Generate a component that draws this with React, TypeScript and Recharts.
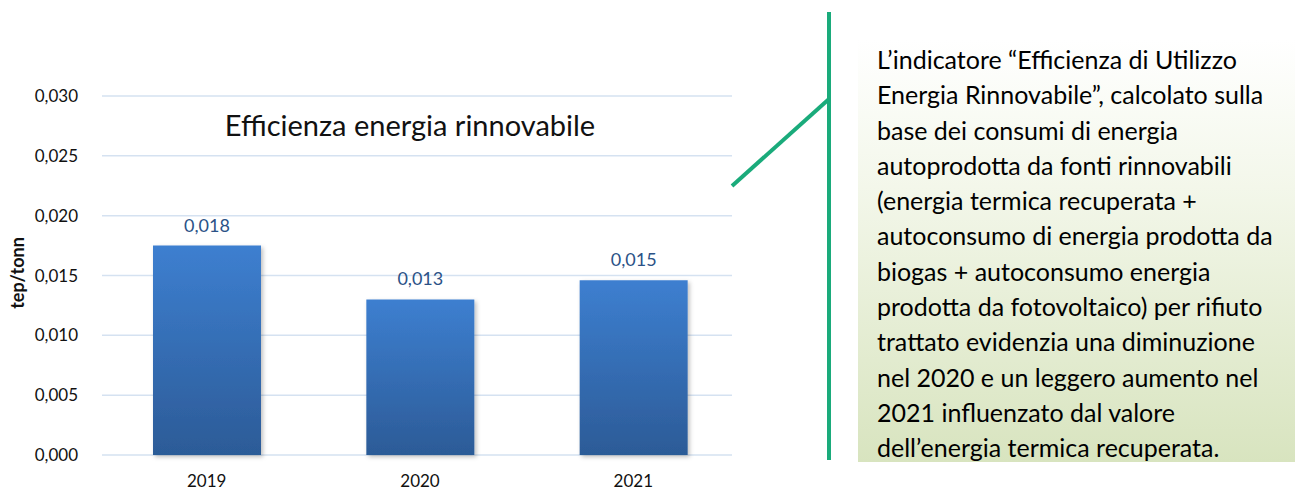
import React from "react";
import { BarChart, Bar, XAxis, YAxis, CartesianGrid, LabelList, Text } from "recharts";

const years = ["2019", "2020", "2021"];
const efficiency = [0.0175, 0.013, 0.0146];
const yTicks = [0, 0.005, 0.01, 0.015, 0.02, 0.025, 0.03];

const noteLines = [
  "L\u2019indicatore \u201cEfficienza di Utilizzo",
  "Energia Rinnovabile\u201d, calcolato sulla",
  "base dei consumi di energia",
  "autoprodotta da fonti rinnovabili",
  "(energia termica recuperata +",
  "autoconsumo di energia prodotta da",
  "biogas + autoconsumo energia",
  "prodotta da fotovoltaico) per rifiuto",
  "trattato evidenzia una diminuzione",
  "nel 2020 e un leggero aumento nel",
  "2021 influenzato dal valore",
  "dell\u2019energia termica recuperata.",
];

const data = years.map((year, i) => ({ year, value: efficiency[i] }));

const FONT = "Lato, 'Open Sans', sans-serif";
const fmt = (v: number) => v.toFixed(3).replace(".", ",");

const App = () => (
  <div
    style={{
      position: "absolute",
      left: 0,
      top: 0,
      width: 1295,
      height: 490,
      background: "#fff",
      fontFamily: FONT,
      overflow: "hidden",
    }}
  >
    <div style={{ position: "absolute", left: 0, top: 0 }}>
      <BarChart
        width={740}
        height={490}
        data={data}
        margin={{ top: 96, right: 8, bottom: 5, left: 0 }}
      >
        <defs>
          <linearGradient id="barFill" x1="0" y1="0" x2="0" y2="1">
            <stop offset="0%" stopColor="#3d7fd0" />
            <stop offset="100%" stopColor="#2c5b97" />
          </linearGradient>
          <filter id="barShadow" x="-10%" y="-5%" width="125%" height="115%">
            <feDropShadow dx="2" dy="2" stdDeviation="2" floodColor="#000" floodOpacity="0.25" />
          </filter>
        </defs>
        <CartesianGrid vertical={false} stroke="#d5e2f1" strokeWidth={1.5} />
        <XAxis
          dataKey="year"
          axisLine={false}
          tickLine={false}
          height={30}
          tickMargin={14}
          padding={{ left: -2, right: -8 }}
          tick={{ fill: "#111", fontSize: 17, fontFamily: FONT }}
        />
        <YAxis
          width={102}
          domain={[0, 0.03]}
          ticks={yTicks}
          tickFormatter={fmt}
          axisLine={false}
          tickLine={false}
          tickMargin={18}
          tick={{ fill: "#111", fontSize: 17, fontFamily: FONT }}
        />
        <Bar dataKey="value" fill="url(#barFill)" barSize={108} filter="url(#barShadow)" isAnimationActive={false}>
          <LabelList
            dataKey="value"
            position="top"
            offset={14}
            formatter={(v: any) => fmt(Number(v))}
            style={{ fill: "#2b5287", fontSize: 18, fontFamily: FONT }}
          />
        </Bar>
        <Text
          x={18}
          y={273}
          angle={-90}
          textAnchor="middle"
          verticalAnchor="middle"
          fontSize={18}
          fontWeight={700}
          fill="#111"
          fontFamily={FONT}
        >
          tep/tonn
        </Text>
        <Text x={410} y={126} textAnchor="middle" verticalAnchor="middle" fontSize={29} fill="#111" fontFamily={FONT}>
          Efficienza energia rinnovabile
        </Text>
      </BarChart>
    </div>

    <svg width={1295} height={490} style={{ position: "absolute", left: 0, top: 0, pointerEvents: "none" }}>
      <line x1={829} y1={12} x2={829} y2={460} stroke="#1aab7b" strokeWidth={4} />
      <line x1={732} y1={186} x2={829} y2={99} stroke="#1aab7b" strokeWidth={4} />
    </svg>

    <div
      style={{
        position: "absolute",
        left: 858,
        top: 40,
        width: 437,
        height: 422,
        background: "linear-gradient(to bottom, #ffffff 0%, #f3f7ea 35%, #d8e4bf 100%)",
      }}
    />
    <div
      style={{
        position: "absolute",
        left: 877,
        top: 42,
        fontSize: 25,
        lineHeight: "35.3px",
        color: "#000",
        fontFamily: FONT,
        whiteSpace: "nowrap",
      }}
    >
      {noteLines.map((line, i) => (
        <div key={i}>{line}</div>
      ))}
    </div>
  </div>
);

export default App;
